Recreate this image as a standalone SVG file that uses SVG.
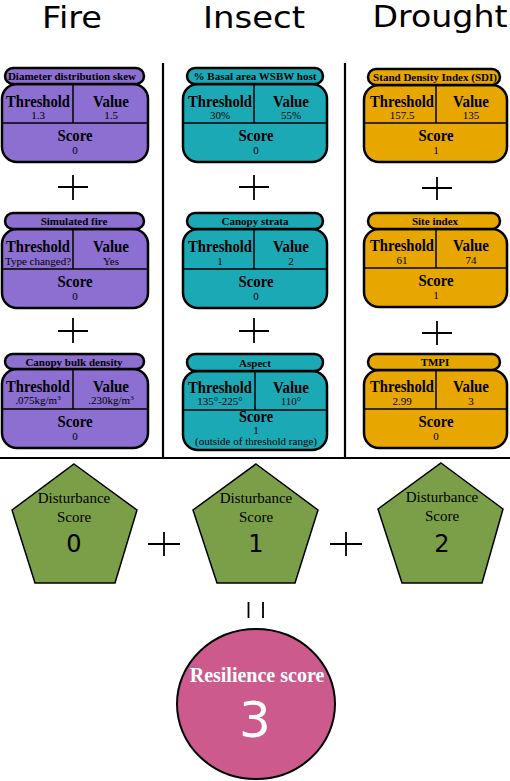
<svg xmlns="http://www.w3.org/2000/svg" width="510" height="781" viewBox="0 0 510 781">
<style>
.title{font-family:"DejaVu Sans",Verdana,sans-serif;font-size:30px;fill:#000;text-anchor:middle}
.hdr{stroke:#000;stroke-width:2.5}
.body{stroke:#000;stroke-width:2.5}
.div{stroke:#000;stroke-width:1.5;fill:none}
.fire{fill:#8c6fd0}
.ins{fill:#1ca9b6}
.dro{fill:#e7a600}
.ht{font-family:"Liberation Serif","Times New Roman",serif;font-weight:bold;font-size:11px;text-anchor:middle;fill:#000}
.lab{font-family:"Liberation Serif","Times New Roman",serif;font-weight:bold;font-size:16px;text-anchor:middle;fill:#000}
.val{font-family:"Liberation Serif","Times New Roman",serif;font-size:11px;text-anchor:middle;fill:#000}
.plus{stroke:#000;stroke-width:1.8;fill:none}
.sep{stroke:#000;stroke-width:2.2;fill:none}
.pent{fill:#7b9f48;stroke:#000;stroke-width:1.5}
.pt{font-family:"Liberation Serif","Times New Roman",serif;font-size:15px;text-anchor:middle;fill:#000}
.pn{font-family:"DejaVu Sans",Verdana,sans-serif;font-size:24px;text-anchor:middle;fill:#000}
.sup{font-size:7px}
</style>

<g id="titles">
<text class="title" x="72" y="28" textLength="60" lengthAdjust="spacingAndGlyphs">Fire</text>
<text class="title" x="254" y="28" textLength="102" lengthAdjust="spacingAndGlyphs">Insect</text>
<text class="title" x="440" y="27" textLength="135" lengthAdjust="spacingAndGlyphs">Drought</text>
</g>

<g id="separators">
<line class="sep" x1="163" y1="63" x2="163" y2="458"/>
<line class="sep" x1="345" y1="63" x2="345" y2="458"/>
<line class="sep" x1="0" y1="458" x2="510" y2="458" stroke-width="2.6"/>
</g>

<!-- FIRE -->
<g id="fire-1">
<rect class="body fire" x="2" y="84" width="146" height="78" rx="15"/>
<rect class="hdr fire" x="5" y="68" width="139" height="16" rx="8"/>
<line class="div" x1="73" y1="84" x2="73" y2="123"/>
<line class="div" x1="2" y1="123" x2="148" y2="123"/>
<text class="ht" x="72" y="80">Diameter distribution skew</text>
<text class="lab" x="38" y="107" textLength="64" lengthAdjust="spacingAndGlyphs">Threshold</text>
<text class="lab" x="111" y="107" textLength="36" lengthAdjust="spacingAndGlyphs">Value</text>
<text class="val" x="38" y="119">1.3</text>
<text class="val" x="111" y="119">1.5</text>
<text class="lab" x="75" y="141" textLength="35" lengthAdjust="spacingAndGlyphs">Score</text>
<text class="val" x="75" y="154">0</text>
</g>
<g id="fire-2">
<rect class="body fire" x="2" y="229" width="146" height="79" rx="15"/>
<rect class="hdr fire" x="5" y="213" width="139" height="16" rx="8"/>
<line class="div" x1="73" y1="229" x2="73" y2="269"/>
<line class="div" x1="2" y1="269" x2="148" y2="269"/>
<text class="ht" x="74" y="225">Simulated fire</text>
<text class="lab" x="38" y="252" textLength="64" lengthAdjust="spacingAndGlyphs">Threshold</text>
<text class="lab" x="111" y="252" textLength="36" lengthAdjust="spacingAndGlyphs">Value</text>
<text class="val" x="38" y="265">Type changed?</text>
<text class="val" x="111" y="265">Yes</text>
<text class="lab" x="75" y="287" textLength="35" lengthAdjust="spacingAndGlyphs">Score</text>
<text class="val" x="75" y="300">0</text>
</g>
<g id="fire-3">
<rect class="body fire" x="2" y="369" width="146" height="79" rx="15"/>
<rect class="hdr fire" x="5" y="354" width="139" height="15" rx="7.5"/>
<line class="div" x1="73" y1="369" x2="73" y2="409"/>
<line class="div" x1="2" y1="409" x2="148" y2="409"/>
<text class="ht" x="74" y="365.5">Canopy bulk density</text>
<text class="lab" x="38" y="392" textLength="64" lengthAdjust="spacingAndGlyphs">Threshold</text>
<text class="lab" x="111" y="392" textLength="36" lengthAdjust="spacingAndGlyphs">Value</text>
<text class="val" x="38" y="404">.075kg/m<tspan class="sup" dy="-4">3</tspan></text>
<text class="val" x="111" y="404">.230kg/m<tspan class="sup" dy="-4">3</tspan></text>
<text class="lab" x="75" y="427" textLength="35" lengthAdjust="spacingAndGlyphs">Score</text>
<text class="val" x="75" y="440">0</text>
</g>

<!-- INSECT -->
<g id="insect-1">
<rect class="body ins" x="183" y="84" width="144" height="78" rx="15"/>
<rect class="hdr ins" x="187" y="68" width="136" height="16" rx="8"/>
<line class="div" x1="254" y1="84" x2="254" y2="123"/>
<line class="div" x1="183" y1="123" x2="327" y2="123"/>
<text class="ht" x="255" y="80">% Basal area WSBW host</text>
<text class="lab" x="220" y="107" textLength="64" lengthAdjust="spacingAndGlyphs">Threshold</text>
<text class="lab" x="291" y="107" textLength="36" lengthAdjust="spacingAndGlyphs">Value</text>
<text class="val" x="220" y="119">30%</text>
<text class="val" x="291" y="119">55%</text>
<text class="lab" x="256" y="141" textLength="35" lengthAdjust="spacingAndGlyphs">Score</text>
<text class="val" x="256" y="154">0</text>
</g>
<g id="insect-2">
<rect class="body ins" x="183" y="229" width="144" height="79" rx="15"/>
<rect class="hdr ins" x="187" y="213" width="136" height="16" rx="8"/>
<line class="div" x1="254" y1="229" x2="254" y2="269"/>
<line class="div" x1="183" y1="269" x2="327" y2="269"/>
<text class="ht" x="255" y="225">Canopy strata</text>
<text class="lab" x="220" y="252" textLength="64" lengthAdjust="spacingAndGlyphs">Threshold</text>
<text class="lab" x="291" y="252" textLength="36" lengthAdjust="spacingAndGlyphs">Value</text>
<text class="val" x="220" y="265">1</text>
<text class="val" x="291" y="265">2</text>
<text class="lab" x="256" y="287" textLength="35" lengthAdjust="spacingAndGlyphs">Score</text>
<text class="val" x="256" y="300">0</text>
</g>
<g id="insect-3">
<rect class="body ins" x="183" y="371" width="144" height="79" rx="15"/>
<rect class="hdr ins" x="187" y="354" width="136" height="17" rx="8.5"/>
<line class="div" x1="255" y1="371" x2="255" y2="410"/>
<line class="div" x1="183" y1="410" x2="327" y2="410"/>
<text class="ht" x="255" y="366.5">Aspect</text>
<text class="lab" x="220" y="393" textLength="64" lengthAdjust="spacingAndGlyphs">Threshold</text>
<text class="lab" x="291" y="393" textLength="36" lengthAdjust="spacingAndGlyphs">Value</text>
<text class="val" x="220" y="405">135°-225°</text>
<text class="val" x="291" y="405">110°</text>
<text class="lab" x="256" y="421.5" font-size="14" textLength="34" lengthAdjust="spacingAndGlyphs">Score</text>
<text class="val" x="256" y="433.5" font-size="9.5">1</text>
<text class="val" x="256" y="445" font-size="9.5">(outside of threshold range)</text>
</g>

<!-- DROUGHT -->
<g id="drought-1">
<rect class="body dro" x="364" y="85" width="143" height="77" rx="15"/>
<rect class="hdr dro" x="368" y="69" width="132" height="16" rx="8"/>
<line class="div" x1="436" y1="85" x2="436" y2="123"/>
<line class="div" x1="364" y1="123" x2="507" y2="123"/>
<text class="ht" x="435" y="81">Stand Density Index (SDI)</text>
<text class="lab" x="402" y="107" textLength="64" lengthAdjust="spacingAndGlyphs">Threshold</text>
<text class="lab" x="471" y="107" textLength="36" lengthAdjust="spacingAndGlyphs">Value</text>
<text class="val" x="402" y="119">157.5</text>
<text class="val" x="471" y="119">135</text>
<text class="lab" x="436" y="141" textLength="35" lengthAdjust="spacingAndGlyphs">Score</text>
<text class="val" x="436" y="154">1</text>
</g>
<g id="drought-2">
<rect class="body dro" x="364" y="229" width="143" height="78" rx="15"/>
<rect class="hdr dro" x="368" y="213" width="132" height="16" rx="8"/>
<line class="div" x1="436" y1="229" x2="436" y2="268"/>
<line class="div" x1="364" y1="268" x2="507" y2="268"/>
<text class="ht" x="435" y="225">Site index</text>
<text class="lab" x="402" y="251" textLength="64" lengthAdjust="spacingAndGlyphs">Threshold</text>
<text class="lab" x="471" y="251" textLength="36" lengthAdjust="spacingAndGlyphs">Value</text>
<text class="val" x="402" y="264">61</text>
<text class="val" x="471" y="264">74</text>
<text class="lab" x="436" y="286" textLength="35" lengthAdjust="spacingAndGlyphs">Score</text>
<text class="val" x="436" y="299">1</text>
</g>
<g id="drought-3">
<rect class="body dro" x="364" y="370" width="143" height="78" rx="15"/>
<rect class="hdr dro" x="368" y="354" width="132" height="16" rx="8"/>
<line class="div" x1="436" y1="370" x2="436" y2="409"/>
<line class="div" x1="364" y1="409" x2="507" y2="409"/>
<text class="ht" x="435" y="366">TMPI</text>
<text class="lab" x="402" y="392" textLength="64" lengthAdjust="spacingAndGlyphs">Threshold</text>
<text class="lab" x="471" y="392" textLength="36" lengthAdjust="spacingAndGlyphs">Value</text>
<text class="val" x="402" y="405">2.99</text>
<text class="val" x="471" y="405">3</text>
<text class="lab" x="436" y="427" textLength="35" lengthAdjust="spacingAndGlyphs">Score</text>
<text class="val" x="436" y="440">0</text>
</g>

<g id="operators">
<path class="plus" d="M58 187H88M73 175V200"/>
<path class="plus" d="M58 331H88M73 318V343"/>
<path class="plus" d="M239 187H269M254 175V200"/>
<path class="plus" d="M239 331H269M254 318V343"/>
<path class="plus" d="M422 188H452M437 177V200"/>
<path class="plus" d="M422 333H452M437 321V345"/>
<path class="plus" d="M148 544H180M164 532V556"/>
<path class="plus" d="M330 544H362M346 532V556"/>
<path class="plus" stroke-width="2.6" d="M248.5 602V618M263 602V618"/>
</g>

<g id="dist-fire">
<polygon class="pent" points="74,464 137,510 115,583 35,583 12,510"/>
<text class="pt" x="74" y="503">Disturbance</text>
<text class="pt" x="74" y="522">Score</text>
<text class="pn" x="74" y="552">0</text>
</g>
<g id="dist-insect">
<polygon class="pent" points="256,464 318,510 295,583 217,583 193,510"/>
<text class="pt" x="256" y="503">Disturbance</text>
<text class="pt" x="256" y="522">Score</text>
<text class="pn" x="256" y="552">1</text>
</g>
<g id="dist-drought">
<polygon class="pent" points="441,463 503,509 482,583 402,583 378,509"/>
<text class="pt" x="442" y="502">Disturbance</text>
<text class="pt" x="442" y="521">Score</text>
<text class="pn" x="442" y="552">2</text>
</g>

<g id="resilience">
<ellipse cx="256" cy="704" rx="79" ry="75" fill="#cc5a8c" stroke="#000" stroke-width="2"/>
<text x="257" y="682" font-family="Liberation Serif,'Times New Roman',serif" font-weight="bold" font-size="20" fill="#fff" text-anchor="middle">Resilience score</text>
<text x="255" y="737" font-family="DejaVu Sans,Verdana,sans-serif" font-size="50" fill="#fff" text-anchor="middle">3</text>
</g>
</svg>
